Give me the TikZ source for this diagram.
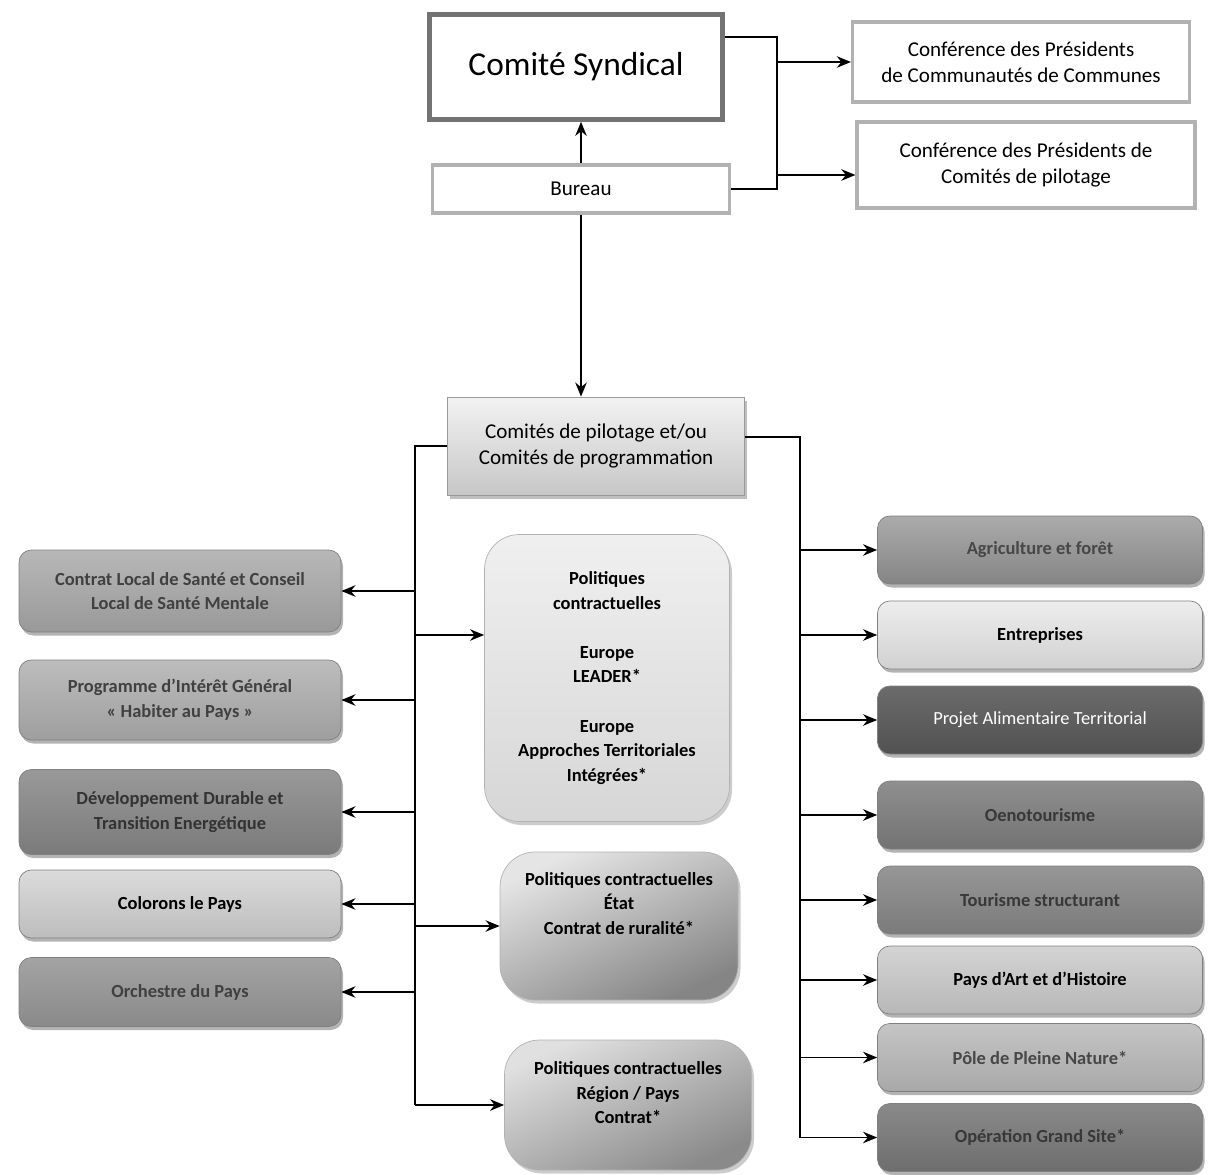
\documentclass[tikz,border=0pt]{standalone}
\usepackage{fontspec}
\setmainfont{Carlito}
\usepackage{tikz}
\usetikzlibrary{shapes.geometric, arrows.meta, calc, shadows}
\tikzstyle{mainbox} = [rectangle, minimum width=5.86cm, minimum height=2.1cm, text centered, draw=black!55, line width=2.6pt, fill=white, font=\fontsize{19}{23}\selectfont]
\tikzstyle{topbox} = [rectangle, minimum height=0.96cm, align=center, draw=black!30, line width=1.8pt, fill=white, font=\fontsize{12}{15}\selectfont]
\tikzstyle{pilotbox} = [rectangle, minimum width=5.94cm, minimum height=1.96cm, align=center, draw=black!40, top color=black!5, bottom color=black!22, drop shadow={shadow xshift=0.05cm, shadow yshift=-0.07cm, opacity=0.5}, font=\fontsize{12}{15}\selectfont]
\tikzstyle{leftbox} = [rectangle, rounded corners=7pt, minimum width=6.44cm, align=center, draw=black!50, drop shadow={shadow xshift=0.04cm, shadow yshift=-0.07cm, opacity=0.6}, font=\bfseries\fontsize{10.5}{14}\selectfont]
\tikzstyle{rightbox} = [leftbox, minimum width=6.5cm, minimum height=1.36cm]
\tikzstyle{midbox} = [rectangle, rounded corners=0.7cm, align=center, draw=black!30, drop shadow={shadow xshift=0.05cm, shadow yshift=-0.07cm, opacity=0.4}, font=\bfseries\fontsize{10.5}{14}\selectfont]
\tikzstyle{arrow} = [line width=1.1pt,-{Stealth[length=8pt, width=6.5pt]}]
\tikzstyle{line} = [line width=1.1pt]
\tikzset{tone/.style 2 args={top color=black!#1, bottom color=black!#2}}

\begin{document}
\begin{tikzpicture}[node distance=1.7cm]
\useasboundingbox (0,0) rectangle (24.26,-23.48);

    \node (comite) [mainbox] at (11.52,-1.34) {Comité Syndical};
    \node (bureau) [topbox, minimum width=5.94cm] at (11.62,-3.78) {Bureau};
    \node (conf1)  [topbox, minimum width=6.74cm, minimum height=1.6cm] at (20.42,-1.24) {Conférence des Présidents\\de Communautés de Communes};
    \node (conf2)  [topbox, minimum width=6.76cm, minimum height=1.72cm] at (20.52,-3.3) {Conférence des Présidents de\\Comités de pilotage};

    \node (pilot) [pilotbox] at (11.92,-8.92) {Comités de pilotage et/ou\\Comités de programmation};

    \node (lb1) [leftbox, tone={28}{40}, text=black!75, minimum height=1.64cm] at (3.6,-11.82) {Contrat Local de Santé et Conseil\\Local de Santé Mentale};
    \node (lb2) [leftbox, tone={26}{38}, text=black!75, minimum height=1.6cm, below of=lb1, yshift=-0.48cm] {Programme d'Intérêt Général\\« Habiter au Pays »};
    \node (lb3) [leftbox, tone={40}{52}, text=black!80, minimum height=1.7cm, below of=lb2, yshift=-0.54cm] {Développement Durable et\\Transition Energétique};
    \node (lb4) [leftbox, tone={14}{26}, text=black, minimum height=1.36cm, below of=lb3, yshift=-0.14cm] {Colorons le Pays};
    \node (lb5) [leftbox, tone={36}{46}, text=black!75, minimum height=1.38cm, below of=lb4, yshift=-0.06cm] {Orchestre du Pays};

    \node (europe) [midbox, tone={6}{16}, minimum width=4.9cm, minimum height=5.74cm] at (12.14,-13.56) {Politiques\\contractuelles\\[14pt]Europe\\LEADER*\\[14pt]Europe\\Approches Territoriales\\Intégrées*};
    \node (etat)   [midbox, top color=black!10, bottom color=black!48, shading angle=25, minimum width=4.76cm, minimum height=2.96cm, text depth=0.9cm] at (12.38,-18.52) {Politiques contractuelles\\État\\Contrat de ruralité*};
    \node (region) [midbox, top color=black!12, bottom color=black!46, shading angle=25, minimum width=4.94cm, minimum height=2.6cm, text depth=0.5cm] at (12.56,-22.1) {Politiques contractuelles\\Région / Pays\\Contrat*};

    \node (rb1) [rightbox, tone={33}{48}, text=black!72] at (20.8,-11.0) {Agriculture et forêt};
    \node (rb2) [rightbox, tone={7}{18}, text=black, below of=rb1] {Entreprises};
    \node (rb3) [rightbox, tone={58}{68}, text=white, font=\fontsize{10.5}{14}\selectfont, below of=rb2] {Projet Alimentaire Territorial};
    \node (rb4) [rightbox, tone={44}{55}, text=black!78, below of=rb3, yshift=-0.2cm] {Oenotourisme};
    \node (rb5) [rightbox, tone={41}{52}, text=black!78, below of=rb4] {Tourisme structurant};
    \node (rb6) [rightbox, tone={17}{28}, text=black, below of=rb5, yshift=0.1cm] {Pays d'Art et d'Histoire};
    \node (rb7) [rightbox, tone={23}{34}, text=black!72, below of=rb6, yshift=0.15cm] {Pôle de Pleine Nature*};
    \node (rb8) [rightbox, tone={46}{57}, text=black!78, below of=rb7, yshift=0.1cm] {Opération Grand Site*};

    \coordinate (tj) at (15.54,0);
    \coordinate (lt) at (8.3,0);
    \coordinate (rt) at (16.0,0);

\draw [line] ([yshift=0.6cm]comite.east) -| (bureau.east -| tj) -- (bureau.east);
\draw [arrow] (conf1.west -| tj) -- (conf1.west);
\draw [arrow] ([yshift=-0.2cm]conf2.west -| tj) -- ([yshift=-0.2cm]conf2.west);
\draw [arrow] (bureau.north) -- (bureau.north |- comite.south);
\draw [arrow] (bureau.south) -- (bureau.south |- pilot.north);

\draw [line] (pilot.west) -| (region.west -| lt);
\draw [arrow] (lb1.east -| lt) -- (lb1.east);
\draw [arrow] (lb2.east -| lt) -- (lb2.east);
\draw [arrow] (lb3.east -| lt) -- (lb3.east);
\draw [arrow] (lb4.east -| lt) -- (lb4.east);
\draw [arrow] (lb5.east -| lt) -- (lb5.east);
\draw [arrow] ([yshift=0.86cm]europe.west -| lt) -- ([yshift=0.86cm]europe.west);
\draw [arrow] (etat.west -| lt) -- (etat.west);
\draw [arrow] (region.west -| lt) -- (region.west);

\draw [line] ([yshift=0.18cm]pilot.east) -| (rb8.west -| rt);
\draw [arrow] (rb1.west -| rt) -- (rb1.west);
\draw [arrow] (rb2.west -| rt) -- (rb2.west);
\draw [arrow] (rb3.west -| rt) -- (rb3.west);
\draw [arrow] (rb4.west -| rt) -- (rb4.west);
\draw [arrow] (rb5.west -| rt) -- (rb5.west);
\draw [arrow] (rb6.west -| rt) -- (rb6.west);
\draw [arrow] (rb7.west -| rt) -- (rb7.west);
\draw [arrow] (rb8.west -| rt) -- (rb8.west);

\end{tikzpicture}
\end{document}
